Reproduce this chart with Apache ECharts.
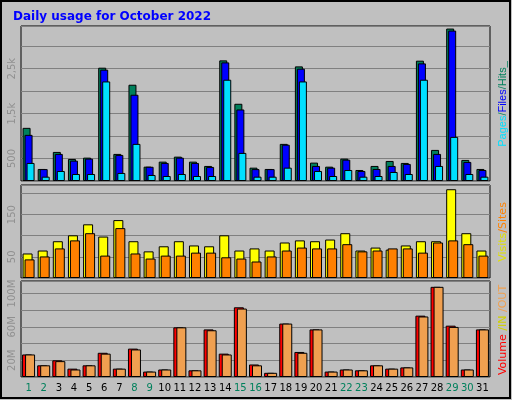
<!DOCTYPE html>
<html><head><meta charset="utf-8">
<script src="https://cdn.jsdelivr.net/npm/echarts@6/dist/echarts.min.js"></script>
<style>html,body{margin:0;padding:0;background:#c0c0c0}#c{width:512px;height:400px}</style>
</head><body><div id="c"></div>
<script>
var days = ['1','2','3','4','5','6','7','8','9','10','11','12','13','14','15','16','17','18','19','20','21','22','23','24','25','26','27','28','29','30','31'];
var weekend = ['1','2','8','9','15','16','22','23','29','30'];
var hits  = [1183,268,647,491,520,2522,603,2143,319,431,542,431,335,2685,1719,297,268,826,2551,409,319,498,245,335,446,402,2678,692,3393,469,268];
var files = [1027,265,603,453,498,2478,580,1920,317,402,520,402,313,2640,1592,265,265,808,2500,335,297,475,223,268,335,380,2618,603,3348,424,245];
var pages = [402,96,223,156,156,2216,179,826,134,111,156,111,111,2254,625,96,96,297,2216,223,111,245,96,111,201,156,2254,335,982,156,96];
var visits = [58,65,87,101,127,98,137,87,63,75,87,77,75,101,65,70,65,84,89,87,91,106,65,72,67,77,87,87,210,106,65];
var sites  = [44,51,70,89,106,53,118,58,46,53,53,60,60,49,46,39,51,65,72,70,70,80,63,65,70,70,60,84,89,80,53];
var volume = [27,14,20,10,14,29,10,34,6.5,9,59.5,8,57,28,83.5,15,5,64,30,57,6.5,9,8,14,10,11.5,73.5,108,61.5,9,57];
var outVol = [27,14,19,9,14,28,10,33,6.5,9,59.5,8,56,27,82,14,5,64,29,57,6.5,9,8,14,10,11.5,72.5,108,60,9,57];

var chart = echarts.init(document.getElementById('c'));
var grids = [
  {left: 21, right: 22, top: 26, height: 155},
  {left: 21, right: 22, top: 185, height: 93},
  {left: 21, right: 22, top: 281, height: 96}
];
grids.forEach(function (g) { g.show = true; g.backgroundColor = '#c0c0c0'; g.borderColor = '#000'; g.borderWidth = 1; });

function xAxis(i, show) {
  return {
    type: 'category', data: days, gridIndex: i,
    axisLine: {show: false}, axisTick: {show: false},
    axisLabel: {
      show: show, interval: 0, fontSize: 10, fontFamily: 'DejaVu Sans', margin: 6,
      color: function (v) { return weekend.indexOf(v) >= 0 ? '#00805c' : '#000'; }
    }
  };
}
function yAxis(i, max, step, show) {
  return {
    type: 'value', gridIndex: i, min: 0, max: max, interval: step,
    axisLine: {show: false}, axisTick: {show: false},
    splitLine: {lineStyle: {color: '#808080', width: 1}},
    axisLabel: {
      rotate: 90, fontSize: 10, color: '#909090', fontFamily: 'DejaVu Sans', margin: 4,
      formatter: function (v) { return show.hasOwnProperty(v) ? show[v] : ''; }
    }
  };
}
function bar(name, data, color, xi, w, gap) {
  return {
    name: name, type: 'bar', data: data, xAxisIndex: xi, yAxisIndex: xi,
    barWidth: w, barGap: gap, animation: false,
    itemStyle: {color: color, borderColor: '#000', borderWidth: 1}
  };
}

chart.setOption({
  backgroundColor: '#c0c0c0',
  animation: false,
  title: {text: 'Daily usage for October 2022', left: 8, top: 6,
    textStyle: {color: '#0000ff', fontSize: 12, fontWeight: 'bold', fontFamily: 'DejaVu Sans'}},
  grid: grids,
  xAxis: [xAxis(0, false), xAxis(1, false), xAxis(2, true)],
  yAxis: [
    yAxis(0, 3450, 500, {500: '500', 1500: '1,5k', 2500: '2,5k'}),
    yAxis(1, 220, 50, {50: '50', 150: '150'}),
    yAxis(2, 115, 20, {20: '20M', 60: '60M', 100: '100M'})
  ],
  series: [
    bar('Hits', hits, '#00805c', 0, 8, '-75%'),
    bar('Files', files, '#0000ff', 0, 8, '-75%'),
    bar('Pages', pages, '#00e0ff', 0, 8, '-75%'),
    bar('Visits', visits, '#ffff00', 1, 10, '-80%'),
    bar('Sites', sites, '#ff8000', 1, 10, '-80%'),
    bar('Volume', volume, '#ff0000', 2, 10, '-70%'),
    bar('OUT', outVol, '#f0a050', 2, 10, '-70%')
  ],
  graphic: [
    {type: 'rect', shape: {x: 1, y: 1, width: 509, height: 397}, style: {fill: 'none', stroke: '#000', lineWidth: 2}, z: 100},
    {type: 'text', x: 503, y: 104, rotation: Math.PI / 2, style: {
      text: '{p|Pages}{s|/}{f|Files}{s|/}{h|Hits_}', align: 'center', verticalAlign: 'middle',
      font: '11px DejaVu Sans',
      rich: {p: {fill: '#00e0ff', fontSize: 11}, f: {fill: '#0000ff', fontSize: 11}, h: {fill: '#00805c', fontSize: 11}, s: {fill: '#00805c', fontSize: 11}}}},
    {type: 'text', x: 503, y: 232, rotation: Math.PI / 2, style: {
      text: '{v|Visits}{s|/Sites}', align: 'center', verticalAlign: 'middle',
      rich: {v: {fill: '#e0e000', fontSize: 11, fontFamily: 'DejaVu Sans'}, s: {fill: '#ff8000', fontSize: 11, fontFamily: 'DejaVu Sans'}}}},
    {type: 'text', x: 503, y: 330, rotation: Math.PI / 2, style: {
      text: '{v|Volume}{i| /IN}{o| /OUT}', align: 'center', verticalAlign: 'middle',
      rich: {v: {fill: '#ff0000', fontSize: 11, fontFamily: 'DejaVu Sans'}, i: {fill: '#d0d000', fontSize: 11, fontFamily: 'DejaVu Sans'}, o: {fill: '#f0a050', fontSize: 11, fontFamily: 'DejaVu Sans'}}}}
  ]
});
</script></body></html>
